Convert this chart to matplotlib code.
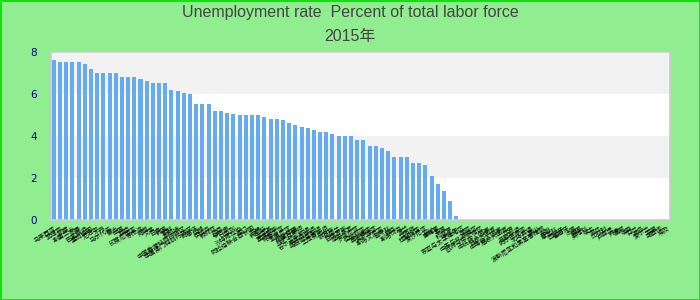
import numpy as np
import matplotlib
matplotlib.use("Agg")
import matplotlib.pyplot as plt

plt.rcParams['font.family'] = ['Liberation Sans', 'Noto Sans CJK SC', 'DejaVu Sans']

title_line1 = "Unemployment rate  Percent of total labor force"
title_line2 = "2015年"

countries = [
    "马来西亚", "菲律宾", "印度", "斯里兰卡", "阿曼", "巴基斯坦", "孟加拉国", "尼泊尔",
    "不丹", "马尔代夫", "蒙古", "中国", "越南", "印度尼西亚", "东帝汶", "缅甸",
    "文莱", "日本", "韩国", "朝鲜", "新加坡", "中国香港特别行政区", "中国澳门特别行政区",
    "阿富汗", "伊朗", "伊拉克", "叙利亚", "约旦", "黎巴嫩", "以色列", "沙特阿拉伯",
    "也门", "阿拉伯联合酋长国", "巴林", "科威特", "土耳其", "塞浦路斯", "格鲁吉亚",
    "亚美尼亚", "阿塞拜疆", "哈萨克斯坦", "吉尔吉斯斯坦", "塔吉克斯坦", "乌兹别克斯坦",
    "土库曼斯坦", "俄罗斯", "乌克兰", "白俄罗斯", "摩尔多瓦", "罗马尼亚", "保加利亚",
    "塞尔维亚", "克罗地亚", "斯洛文尼亚", "匈牙利", "捷克", "斯洛伐克", "波兰",
    "立陶宛", "拉脱维亚", "爱沙尼亚", "老挝", "柬埔寨", "泰国", "科摩罗", "卡塔尔",
    "东亚与太平洋地区", "南亚", "中东与北非地区", "欧洲与中亚地区", "中低收入国家",
    "低收入国家", "中等收入国家", "高收入国家", "世界", "巴勒斯坦", "阿尔巴尼亚",
    "北马其顿", "黑山", "波斯尼亚和黑塞哥维那", "希腊", "意大利", "西班牙", "葡萄牙",
    "法国", "德国", "奥地利", "瑞士", "荷兰", "比利时", "卢森堡", "丹麦", "挪威",
    "瑞典", "芬兰", "冰岛", "爱尔兰", "英国", "马耳他", "埃及",
]

values = [
    7.6, 7.5, 7.5, 7.5, 7.5, 7.4, 7.2, 7.0, 7.0, 7.0, 7.0, 6.8, 6.8, 6.8, 6.7, 6.6,
    6.5, 6.5, 6.5, 6.2, 6.15, 6.05, 6.0, 5.5, 5.5, 5.5, 5.2, 5.2, 5.1, 5.05, 5.0, 5.0,
    5.0, 5.0, 4.9, 4.8, 4.8, 4.75, 4.6, 4.5, 4.4, 4.35, 4.3, 4.2, 4.2, 4.1, 4.0, 4.0,
    4.0, 3.8, 3.8, 3.5, 3.5, 3.4, 3.3, 3.0, 3.0, 3.0, 2.7, 2.7, 2.6, 2.1, 1.7, 1.4,
    0.9, 0.2,
]
values = values + [np.nan] * (len(countries) - len(values))

y_ticks = [0, 2, 4, 6, 8]

fig = plt.figure(figsize=(7, 3), dpi=100)
fig.patch.set_facecolor('#90ee90')
fig.patch.set_edgecolor('#11e011')
fig.patch.set_linewidth(2)

ax = fig.add_axes([50.7 / 700, 80 / 300, 619.3 / 700, 168.3 / 300])
ax.set_facecolor('white')
ax.axhspan(2, 4, color='#f2f2f2', zorder=0, lw=0)
ax.axhspan(6, 8, color='#f2f2f2', zorder=0, lw=0)

x = np.arange(len(countries))
ax.bar(x, values, width=0.65, color='#66aaf0', zorder=2)

ax.set_xlim(-0.5, len(countries) - 0.5)
ax.set_ylim(0, 8)
ax.set_yticks(y_ticks)
ax.set_yticklabels([str(v) for v in y_ticks], color='#00008b', fontsize=7.5,
                   family=['DejaVu Sans'])
ax.tick_params(axis='y', length=0, pad=10)
ax.set_xticks(x)
ax.set_xticklabels(countries, rotation=32, ha='right', rotation_mode='anchor',
                   fontsize=4.5, family=['Noto Sans CJK SC', 'DejaVu Sans'])
ax.tick_params(axis='x', length=0, pad=3)

for s in ax.spines.values():
    s.set_color('#cccccc')
    s.set_linewidth(1.2)

fig.text(0.5, 1 - 12 / 300, title_line1, ha='center', va='center',
         fontsize=11.5, color='#444444')
fig.text(0.5, 1 - 36 / 300, title_line2, ha='center', va='center',
         fontsize=11.5, color='#444444')

fig.savefig('out.png', dpi=100, facecolor=fig.get_facecolor(),
            edgecolor=fig.get_edgecolor())
